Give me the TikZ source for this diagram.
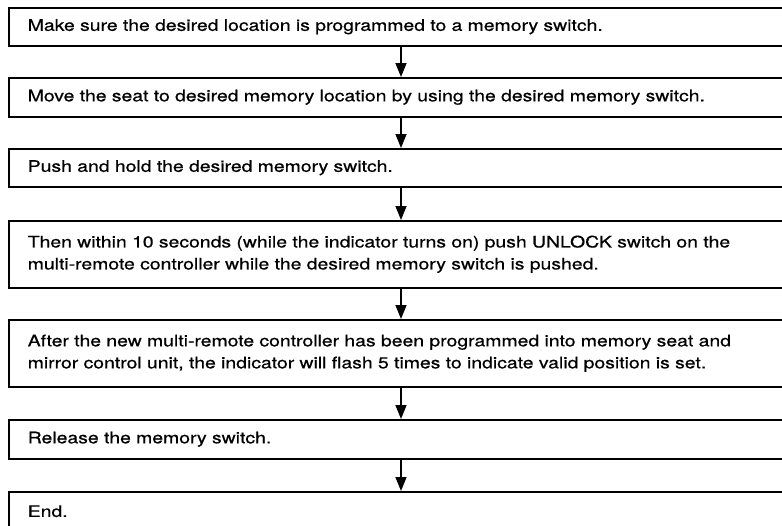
\documentclass[tikz,border=0pt]{standalone}
\usepackage{fontspec}
\setmainfont{TeX Gyre Heros}[FakeStretch=1.22,FakeBold=0.6]
\usetikzlibrary{arrows.meta}
\begin{document}
\begin{tikzpicture}[x=1pt,y=-1pt,
  stepbox/.style={draw, line width=1.5pt, anchor=north west, inner xsep=19pt, inner ysep=0pt,
    text width=744pt, align=left, font=\fontsize{15.9pt}{22pt}\selectfont},
  flowarrow/.style={line width=1.5pt, -{Triangle[length=14pt,width=11pt]}}]
\clip (0,0) rectangle (782,525);
\useasboundingbox (0,0) rectangle (782,525);
\fill[white] (0,0) rectangle (782,525);
\node[stepbox, minimum height=38pt] (b1) at (8,7) {Make sure the desired location is programmed to a memory switch.};
\node[stepbox, minimum height=39pt] (b2) at (8,77) {Move the seat to desired memory location by using the desired memory switch.};
\node[stepbox, minimum height=38pt] (b3) at (8,148) {Push and hold the desired memory switch.};
\node[stepbox, minimum height=67pt] (b4) at (8,220) {Then within 10 seconds (while the indicator turns on) push UNLOCK switch on the\\multi-remote controller while the desired memory switch is pushed.};
\node[stepbox, minimum height=67pt] (b5) at (8,319) {After the new multi-remote controller has been programmed into memory seat and\\mirror control unit, the indicator will flash 5 times to indicate valid position is set.};
\node[stepbox, minimum height=39pt] (b6) at (8,419) {Release the memory switch.};
\node[stepbox, minimum height=39pt] (b7) at (8,491) {End.};
\coordinate (ax) at (401,0);
\draw[flowarrow] (b1.south -| ax) -- (b2.north -| ax);
\draw[flowarrow] (b2.south -| ax) -- (b3.north -| ax);
\draw[flowarrow] (b3.south -| ax) -- (b4.north -| ax);
\draw[flowarrow] (b4.south -| ax) -- (b5.north -| ax);
\draw[flowarrow] (b5.south -| ax) -- (b6.north -| ax);
\draw[flowarrow] (b6.south -| ax) -- (b7.north -| ax);
\end{tikzpicture}
\end{document}
